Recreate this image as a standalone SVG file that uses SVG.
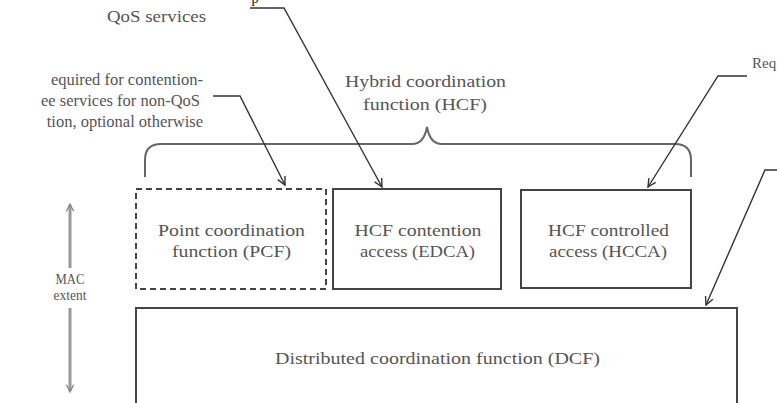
<svg xmlns="http://www.w3.org/2000/svg" width="777" height="403" viewBox="0 0 777 403">
<style>
text{font-size:16.5px;fill:#555}
.box{fill:none;stroke:#444;stroke-width:2}
.dash{fill:none;stroke:#444;stroke-width:2;stroke-dasharray:6,4}
.lead{fill:none;stroke:#333;stroke-width:1.4}
.brace{fill:none;stroke:#666;stroke-width:2}
.mac{fill:none;stroke:#999;stroke-width:3}
</style>
<defs>
<marker id="ah" viewBox="0 0 10 10" refX="9" refY="5" markerWidth="10" markerHeight="10" markerUnits="userSpaceOnUse" orient="auto">
<path d="M1,1 L9,5 L1,9" fill="none" stroke="#333" stroke-width="1.4"/>
</marker>
<marker id="mh" viewBox="0 0 10 10" refX="8" refY="5" markerWidth="9" markerHeight="9" markerUnits="userSpaceOnUse" orient="auto">
<path d="M1,1 L9,5 L1,9" fill="none" stroke="#888" stroke-width="1.5"/>
</marker>
</defs>
<rect width="777" height="403" fill="#fff"/>
<g font-family="'Liberation Serif', 'DejaVu Serif', 'Times New Roman', serif">

<g id="labels">
<text x="255" y="3" text-anchor="middle" style="font-size:14px;fill:#111">p</text>
<text x="107" y="22" textLength="99" lengthAdjust="spacingAndGlyphs">QoS services</text>
<text x="203" y="85" text-anchor="end">equired for contention-</text>
<text x="200" y="106" text-anchor="end">ee services for non-QoS</text>
<text x="203" y="127" text-anchor="end">tion, optional otherwise</text>
<text x="752" y="68" style="font-size:15px">Req</text>
</g>

<g id="hcf">
<path class="brace" d="M145,177 V160 Q145,144 161,144 H412 Q424,144 427,127 Q430,144 442,144 H675 Q691,144 691,160 V177"/>
<text x="425.5" y="87" text-anchor="middle" textLength="161" lengthAdjust="spacingAndGlyphs">Hybrid coordination</text>
<text x="425" y="110" text-anchor="middle" textLength="124" lengthAdjust="spacingAndGlyphs">function (HCF)</text>
</g>

<g id="mac">
<line class="mac" x1="70" y1="205" x2="70" y2="268" marker-end="url(#mh)" transform="rotate(180 70 236.5)"/>
<line class="mac" x1="70" y1="308" x2="70" y2="391" marker-end="url(#mh)"/>
<text x="70" y="284" text-anchor="middle" style="font-size:14px" textLength="29" lengthAdjust="spacingAndGlyphs">MAC</text>
<text x="70" y="300" text-anchor="middle" style="font-size:14px" textLength="33" lengthAdjust="spacingAndGlyphs">extent</text>
</g>

<g id="pcf">
<rect class="dash" x="136" y="189" width="190" height="100"/>
<text x="231.5" y="236" text-anchor="middle" textLength="147" lengthAdjust="spacingAndGlyphs">Point coordination</text>
<text x="231.5" y="257" text-anchor="middle" textLength="119" lengthAdjust="spacingAndGlyphs">function (PCF)</text>
</g>

<g id="edca">
<rect class="box" x="333" y="189" width="168" height="100"/>
<text x="418" y="236" text-anchor="middle" textLength="127" lengthAdjust="spacingAndGlyphs">HCF contention</text>
<text x="417.5" y="257" text-anchor="middle" textLength="115" lengthAdjust="spacingAndGlyphs">access (EDCA)</text>
</g>

<g id="hcca">
<rect class="box" x="521" y="190" width="170" height="98"/>
<text x="608.5" y="236" text-anchor="middle" textLength="121" lengthAdjust="spacingAndGlyphs">HCF controlled</text>
<text x="608" y="257" text-anchor="middle" textLength="118" lengthAdjust="spacingAndGlyphs">access (HCCA)</text>
</g>

<g id="dcf">
<rect class="box" x="136" y="308" width="601" height="110"/>
<text x="437.5" y="364" text-anchor="middle" textLength="325" lengthAdjust="spacingAndGlyphs">Distributed coordination function (DCF)</text>
</g>
</g>

<g id="connectors">
<polyline class="lead" points="250,8 284,8 382,187" marker-end="url(#ah)"/>
<polyline class="lead" points="213,96 240,96 285,185" marker-end="url(#ah)"/>
<polyline class="lead" points="747,76 718,76 648,187" marker-end="url(#ah)"/>
<polyline class="lead" points="777,170 765,170 706,305" marker-end="url(#ah)"/>
</g>
</svg>
